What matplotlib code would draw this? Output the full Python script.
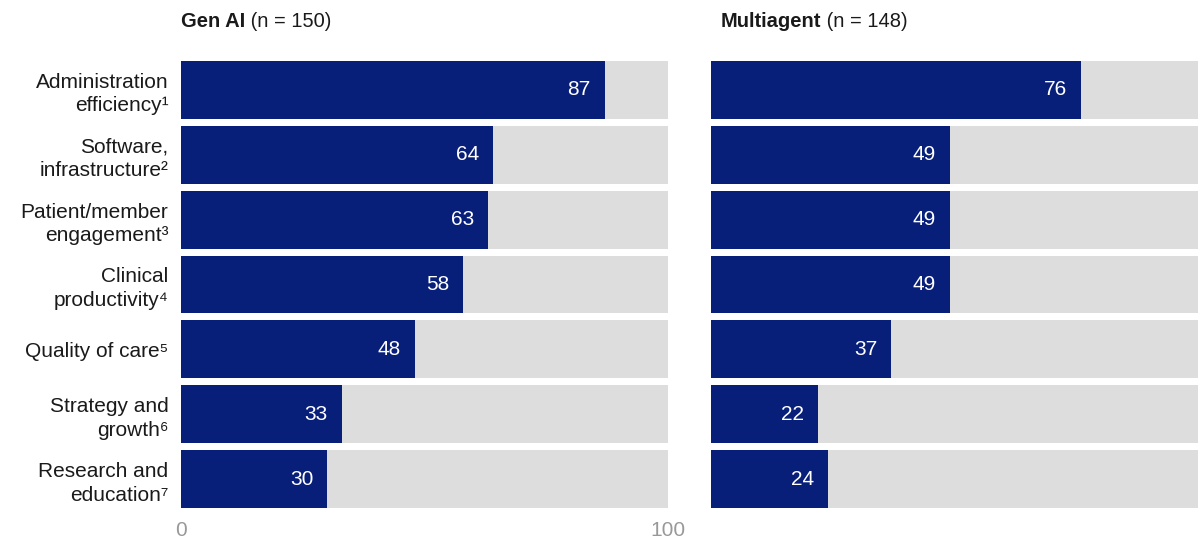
import matplotlib.pyplot as plt

# Data
categories = [
    "Administration\nefficiency\u00b9",
    "Software,\ninfrastructure\u00b2",
    "Patient/member\nengagement\u00b3",
    "Clinical\nproductivity\u2074",
    "Quality of care\u2075",
    "Strategy and\ngrowth\u2076",
    "Research and\neducation\u2077",
]
gen_ai = [87, 64, 63, 58, 48, 33, 30]
multiagent = [76, 49, 49, 49, 37, 22, 24]
panel_titles = [("Gen AI", " (n = 150)"), ("Multiagent", " (n = 148)")]
x_ticks = [0, 100]

navy = "#081f7a"
light = "#dddddd"
dark = "#1a1a1a"

plt.rcParams['font.family'] = ['Liberation Sans', 'DejaVu Sans']

W, H = 1201, 543
fig = plt.figure(figsize=(W / 100, H / 100), dpi=100)

top_px, bot_px = 57.5, 511.5
ax_b = 1 - bot_px / H
ax_h = (bot_px - top_px) / H
lefts = [181, 711]
title_x = [181, 721]
width_px = 487

n = len(categories)
ypos = list(range(n))

for i, (vals, (bold, rest)) in enumerate(zip([gen_ai, multiagent], panel_titles)):
    ax = fig.add_axes([lefts[i] / W, ax_b, width_px / W, ax_h])
    ax.barh(ypos, [100] * n, height=58 / 65, color=light, linewidth=0)
    ax.barh(ypos, vals, height=58 / 65, color=navy, linewidth=0)
    for y, v in zip(ypos, vals):
        ax.annotate(str(v), xy=(v, y), xytext=(-10, 0), textcoords="offset points",
                    ha="right", va="center", color="white", fontsize=15)
    ax.set_xlim(0, 100)
    ax.set_ylim(n - 0.5, -0.5)
    for s in ax.spines.values():
        s.set_visible(False)
    if i == 0:
        ax.set_yticks(ypos)
        ax.set_yticklabels(categories, fontsize=15, color=dark, linespacing=1.3)
        ax.tick_params(axis="y", length=0, pad=9)
        ax.set_xticks(x_ticks)
        ax.set_xticklabels([str(t) for t in x_ticks], fontsize=15, color="#999999")
        ax.tick_params(axis="x", length=0, pad=7)
    else:
        ax.set_yticks([])
        ax.set_xticks([])
    t = fig.text(title_x[i] / W, 1 - 27 / H, bold, fontsize=14.5, fontweight="bold",
                 color=dark, ha="left", va="baseline")
    ax.annotate(rest, xy=(1, 0), xycoords=t, ha="left", va="bottom",
                fontsize=14.5, color=dark, annotation_clip=False)

fig.savefig("out.png", dpi=100)
